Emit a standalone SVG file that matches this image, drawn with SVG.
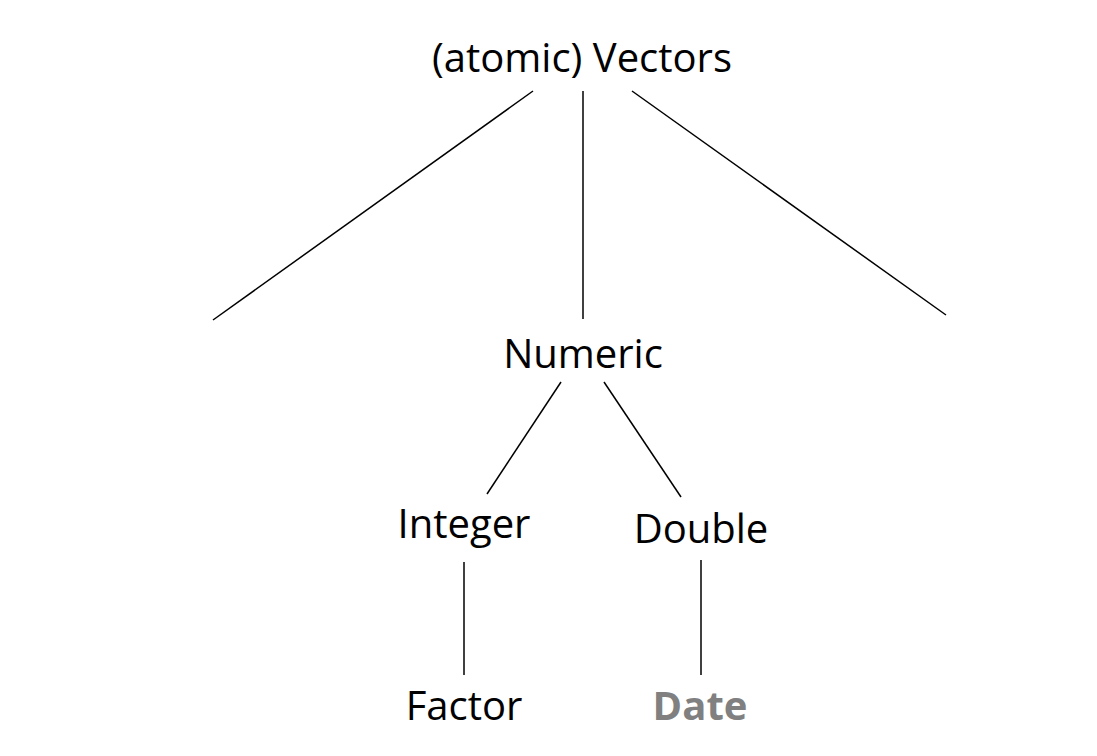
<svg xmlns="http://www.w3.org/2000/svg" width="1097" height="756" viewBox="0 0 1097 756">
<style>
.lbl{font-family:"Open Sans","Noto Sans","DejaVu Sans",sans-serif;font-size:40px;fill:#000;text-anchor:middle}
.date{font-weight:bold;fill:#808080}
.edge{stroke:#000;stroke-width:1.5;fill:none}
</style>
<rect width="1097" height="756" fill="#fff"/>
<g id="connectors">
<line class="edge" x1="533" y1="91" x2="213" y2="320"/>
<line class="edge" x1="583" y1="91" x2="583" y2="319"/>
<line class="edge" x1="632" y1="91" x2="946" y2="315"/>
<line class="edge" x1="561" y1="382" x2="487" y2="494"/>
<line class="edge" x1="604" y1="382" x2="681" y2="497"/>
<line class="edge" x1="464" y1="562" x2="464" y2="675"/>
<line class="edge" x1="701" y1="560" x2="701" y2="675"/>
</g>
<g id="vectors"><text class="lbl" x="582" y="72">(atomic) Vectors</text></g>
<g id="numeric"><text class="lbl" x="583" y="368">Numeric</text></g>
<g id="integer"><text class="lbl" x="464" y="538">Integer</text></g>
<g id="double"><text class="lbl" x="701" y="543">Double</text></g>
<g id="factor"><text class="lbl" x="464" y="720">Factor</text></g>
<g id="date"><text class="lbl date" x="700" y="720">Date</text></g>
</svg>
